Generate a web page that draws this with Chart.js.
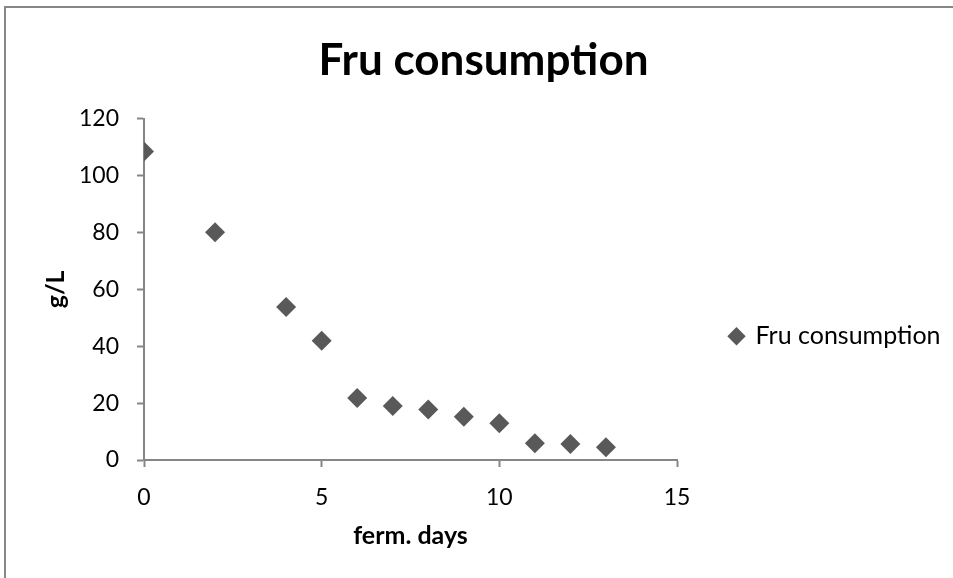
<!DOCTYPE html>
<html>
<head>
<meta charset="utf-8">
<script src="https://cdn.jsdelivr.net/npm/chart.js@4.4.1/dist/chart.umd.min.js"></script>
<style>
  html, body { margin: 0; padding: 0; background: #fff; overflow: hidden; }
  #wrap { position: relative; width: 953px; height: 578px; }
  #frame {
    position: absolute; left: 4px; top: 6px; right: -10px; bottom: -10px;
    border: 2px solid #878787; pointer-events: none;
  }
</style>
</head>
<body>
<div id="wrap">
  <canvas id="chart" width="953" height="578"></canvas>
  <div id="frame"></div>
</div>
<script>
// ---------------------------------------------------------------------------
// Data
// ---------------------------------------------------------------------------
const fermDays = [0, 2, 4, 5, 6, 7, 8, 9, 10, 11, 12, 13];
const fruGL = [108.5, 80.1, 53.8, 41.9, 21.8, 19.0, 17.8, 15.2, 12.9, 5.9, 5.6, 4.5];
const seriesName = 'Fru consumption';
const xTicks = { min: 0, max: 15, step: 5 };
const yTicks = { min: 0, max: 120, step: 20 };

const AXIS_GREY = '#868686';
const MARKER_GREY = '#595959';
const FONT = "Lato, 'Open Sans', sans-serif";
const LEGEND_WIDTH = 276;

// Excel-like legend: fixed width so the plot area ends where the reference does
const legendWidthPlugin = {
  id: 'legendWidth',
  beforeInit(chart) {
    const origFit = chart.legend.fit;
    chart.legend.fit = function fit() {
      origFit.bind(chart.legend)();
      this.width = LEGEND_WIDTH;
    };
  }
};

const points = fermDays.map((d, i) => ({ x: d, y: fruGL[i] }));

new Chart(document.getElementById('chart'), {
  type: 'scatter',
  data: {
    datasets: [{
      label: seriesName,
      data: points,
      pointStyle: 'rectRot',
      pointRadius: 10,
      pointHoverRadius: 10,
      backgroundColor: MARKER_GREY,
      borderColor: MARKER_GREY,
      borderWidth: 0
    }]
  },
  options: {
    responsive: false,
    animation: false,
    layout: { padding: { left: 14, right: 0, top: 0, bottom: 0 } },
    scales: {
      x: {
        type: 'linear',
        min: xTicks.min,
        max: xTicks.max,
        afterFit(scale) { scale.height = 118; },
        ticks: { stepSize: xTicks.step, color: '#000', padding: 17, font: { family: FONT, size: 23 } },
        grid: { drawOnChartArea: false, tickLength: 7, tickColor: AXIS_GREY, tickWidth: 2 },
        border: { color: AXIS_GREY, width: 2 },
        title: {
          display: true,
          text: 'ferm. days',
          color: '#000',
          font: { family: FONT, size: 25, weight: 'bold' },
          padding: { top: 0, bottom: 27 }
        }
      },
      y: {
        min: yTicks.min,
        max: yTicks.max,
        afterFit(scale) { scale.width = 130; },
        ticks: { stepSize: yTicks.step, color: '#000', padding: 18, font: { family: FONT, size: 23 } },
        grid: { drawOnChartArea: false, tickLength: 7, tickColor: AXIS_GREY, tickWidth: 2 },
        border: { color: AXIS_GREY, width: 2 },
        title: {
          display: true,
          text: 'g/L',
          color: '#000',
          font: { family: FONT, size: 25, weight: 'bold' },
          padding: { top: 27, bottom: 0 }
        }
      }
    },
    plugins: {
      title: {
        display: true,
        text: 'Fru consumption',
        color: '#000',
        font: { family: FONT, size: 44, weight: 'bold' },
        padding: { top: 34, bottom: 32 }
      },
      legend: {
        position: 'right',
        align: 'center',
        title: { display: true, text: '', font: { size: 12 }, padding: { top: 80, bottom: 0 } },
        labels: {
          usePointStyle: true,
          boxWidth: 13,
          boxHeight: 13,
          padding: 53,
          color: '#000',
          font: { family: FONT, size: 25 }
        }
      },
      tooltip: { enabled: false }
    }
  },
  plugins: [legendWidthPlugin]
});
</script>
</body>
</html>
